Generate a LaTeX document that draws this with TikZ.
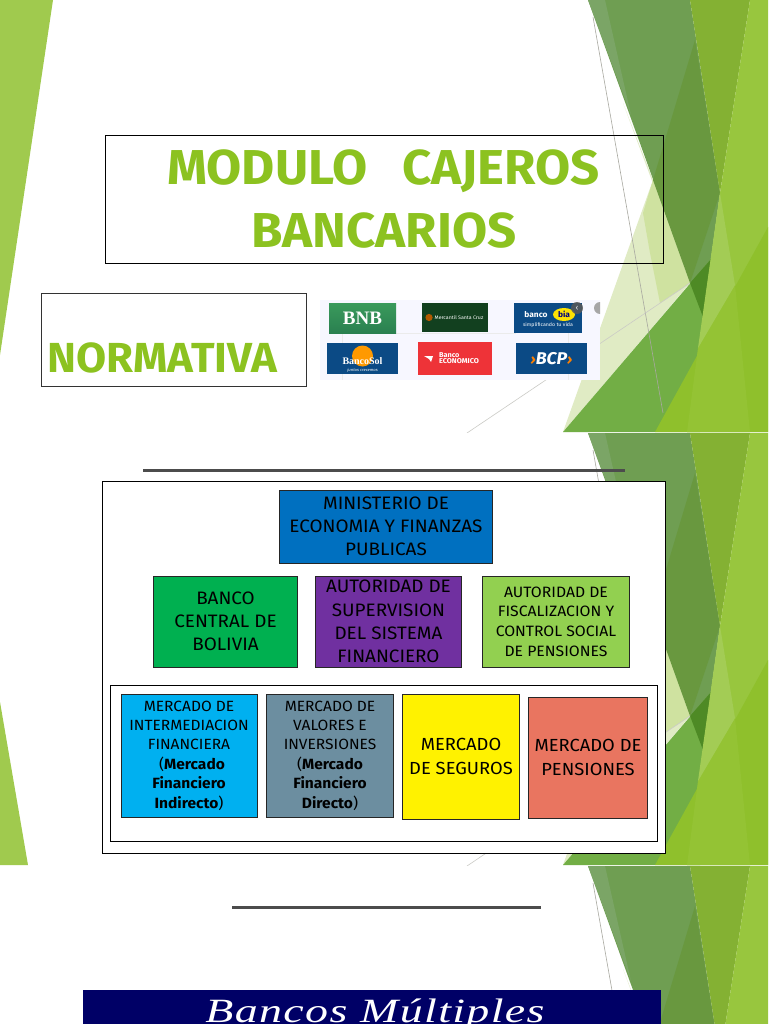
\documentclass[tikz,border=0pt]{standalone}
\usepackage{fontspec}
\setmainfont[FakeStretch=1.05]{Fira Sans}
\newfontfamily\titlef[FakeStretch=1.04]{Fira Sans}
\newfontfamily\serifx{Liberation Serif}
\newfontfamily\bannerfont[FakeStretch=1.35,LetterSpace=4]{Liberation Serif}
\usetikzlibrary{shapes.geometric}
\definecolor{titlegreen}{HTML}{8CC220}
\newcommand{\fs}[2]{\fontsize{#1}{#2}\selectfont}
\newcommand{\decoshapes}{%
  \fill[paleA] (623,103) -- (690,283) -- (653,180) -- cycle;
  \fill[paleA] (653,180) -- (690,283) -- (563,432) -- cycle;
  \fill[paleB] (653,180) -- (665,213) -- (690,283) -- (660,303) -- (650,253) -- (643,213) -- cycle;
  \fill[darkA] (588,0) -- (690,0) -- (720,193) -- (703,317) -- cycle;
  \fill[darkS] (588,0) -- (605,0) -- (631,115) -- cycle;
  \fill[darkB] (695,40) -- (720,193) -- (690,283) -- (653,180) -- cycle;
  \fill[midG] (712,258) -- (563,432) -- (700,432) -- (703,317) -- cycle;
  \fill[tipG] (712,258) -- (690,283) -- (703,317) -- cycle;
  \fill[colC] (690,0) -- (750,0) -- (720,193) -- cycle;
  \fill[colR] (750,0) -- (768,0) -- (768,432) -- (687,432) -- (720,193) -- cycle;
  \fill[colB] (768,227) -- (768,432) -- (655,432) -- cycle;
  \fill[colL] (735,285) -- (750,432) -- (687,432) -- (698,348) -- cycle;
  \fill[colS] (720,193) -- (735,285) -- (698,348) -- cycle;
  \draw[hair] (593,17) -- (663,413);
  \draw[hair2] (690,283) -- (467,433);
}
\tikzset{
  paleA/.style={fill=paleAc}, paleB/.style={fill=paleBc}, darkA/.style={fill=darkAc},
  darkS/.style={fill=darkSc}, darkB/.style={fill=darkBc}, midG/.style={fill=midGc},
  tipG/.style={fill=tipGc}, colC/.style={fill=colCc},
  colR/.style={fill=colRc}, colB/.style={fill=colBc}, colL/.style={fill=colLc},
  colS/.style={fill=colSc},
  hair/.style={draw=hairc,line width=.6pt}, hair2/.style={draw=hairc!60,line width=.6pt},
  framebox/.style={draw=black,line width=1pt,inner sep=0pt},
  orgbox/.style={draw=black!85,line width=1pt,inner sep=0pt,align=center,text=black},
  logo/.style={inner sep=0pt,text=white,align=center},
  rulerline/.style={draw=black!70,line width=2.6pt},
  titletext/.style={text=titlegreen,font=\titlef\fs{49}{60}\bfseries,inner sep=0pt,align=center}
}
\definecolor{paleAc}{HTML}{E0EBC4}\definecolor{paleBc}{HTML}{CFE2A0}
\definecolor{darkAc}{HTML}{6F9E52}\definecolor{darkSc}{HTML}{7BA566}
\definecolor{darkBc}{HTML}{69983F}\definecolor{midGc}{HTML}{72AE45}
\definecolor{tipGc}{HTML}{4E8A25}\definecolor{colCc}{HTML}{84B133}
\definecolor{colRc}{HTML}{98C63E}\definecolor{colBc}{HTML}{8FC02C}
\definecolor{colLc}{HTML}{94C334}\definecolor{colSc}{HTML}{A3CC55}
\definecolor{hairc}{HTML}{A8A8A0}
\definecolor{HTMLa}{HTML}{0070C0}\definecolor{HTMLb}{HTML}{00B050}
\definecolor{HTMLc}{HTML}{7030A0}\definecolor{HTMLd}{HTML}{92D050}
\definecolor{HTMLe}{HTML}{00B0F0}\definecolor{HTMLf}{HTML}{6C8EA0}
\definecolor{HTMLg}{HTML}{E97560}\definecolor{HTMLh}{HTML}{000066}
\definecolor{bnbA}{HTML}{3A9A5C}\definecolor{bnbB}{HTML}{2A8050}
\definecolor{logoNavy}{HTML}{0B4A85}\definecolor{logoRed}{HTML}{EE3338}
\definecolor{logoDark}{HTML}{12401F}
\begin{document}
\begin{tikzpicture}[x=1pt,y=-1pt]
\useasboundingbox (0,0) rectangle (768,1024);
\fill[white] (0,0) rectangle (768,1024);
% slides background
\begin{scope}\clip (0,0) rectangle (768,432); \decoshapes \end{scope}
\begin{scope}[yshift=-433pt]\clip (0,0) rectangle (768,432); \decoshapes \end{scope}
\begin{scope}[yshift=-866pt]\clip (0,0) rectangle (768,158); \decoshapes \end{scope}
\fill[colRc!92!white] (0,0) -- (53,0) -- (0,355) -- cycle;
\fill[colRc!92!white] (0,702) -- (28,865) -- (0,865) -- cycle;
% title
\node[framebox,minimum width=558pt,minimum height=128pt] (titlebox) at (384.5,199.5) {};
\node[titletext] (title1) at (383.5,171) {MODULO\hspace{23pt} CAJEROS};
\node[titletext] (title2) at (384,231) {BANCARIOS};
\node[framebox,draw=black!80,minimum width=265pt,minimum height=93pt] (normbox) at (173.5,339.5) {};
\node[titletext,anchor=west,font=\titlef\fs{42}{50}\bfseries] (normtext) at (47,358) {NORMATIVA};
% logos panel
\fill[blue!3!white] (320,300) rectangle (600,380);
\draw[black!8,line width=1pt] (342,333) -- (342,380) (396,333) -- (516,333) (568,333) -- (568,380);
\node[logo,minimum width=67pt,minimum height=30pt,top color=bnbA,bottom color=bnbB] (bnb) at (362.5,318) {\serifx\fs{19}{19}\bfseries BNB};
\node[logo,fill=logoDark,minimum width=66pt,minimum height=29pt,font=\fs{5}{5}] (mercantil) at (455,317.5) {\hspace{8pt}Mercantil Santa Cruz};
\fill[orange!70!black] (429,317.5) circle (3.6);
\node[logo,fill=logoNavy,minimum width=68pt,minimum height=30pt] (bia) at (548,318) {};
\node[ellipse,fill=yellow!85!orange,inner sep=0pt,minimum width=22pt,minimum height=13pt,font=\fs{8}{8}\bfseries,text=blue!50!black] (biatxt) at (564,314.5) {bia};
\node[logo,font=\fs{8}{8}\bfseries] (bancob) at (536,314.5) {banco};
\node[logo,font=\fs{5}{5}] (simpl) at (548,325.5) {simplificando tu vida};
\node[logo,fill=logoNavy,minimum width=71pt,minimum height=31pt] (sol) at (362.5,358.5) {};
\fill[orange!80!yellow] (362.5,356) circle (10.5);
\node[logo,font=\serifx\fs{10}{10}\bfseries] (soltxt) at (362.5,361) {BancoSol};
\node[logo,font=\fs{4}{4}\itshape] (soltag) at (362.5,370) {juntos crecemos};
\node[logo,fill=logoRed,minimum width=74pt,minimum height=33pt] (eco) at (455,358.5) {};
\node[logo,font=\fs{7}{6}\bfseries,align=left] (ecotxt) at (459,358) {Banco\\ECONOMICO};
\fill[white] (424,356) -- (433,356) -- (431,362) -- (429,359) -- cycle;
\node[logo,fill=logoNavy,minimum width=71pt,minimum height=31pt] (bcp) at (551.5,358.5) {};
\node[logo,font=\fs{17}{17}\bfseries\itshape] (bcptxt) at (551.5,358.5) {\textcolor{orange}{\fs{14}{14}›}BCP\textcolor{orange}{\fs{14}{14}›}};
\begin{scope}
\clip (320,300) rectangle (600,380);
\node[circle,fill=black!65,opacity=.85,minimum size=12pt,inner sep=0pt,text=white,font=\fs{8}{8}] (prev) at (577,308) {‹};
\node[circle,fill=black!35,minimum size=12pt,inner sep=0pt] (next) at (600,308) {};
\end{scope}
% rules
\coordinate (r1a) at (143,470.5); \coordinate (r1b) at (625,470.5);
\coordinate (r2a) at (232,907.5); \coordinate (r2b) at (541,907.5);
\draw[rulerline] (r1a) -- (r1b);
\draw[rulerline] (r2a) -- (r2b);
% diagram
\node[framebox,fill=white,minimum width=563pt,minimum height=372pt] (outer) at (383.5,667) {};
\node[framebox,minimum width=547pt,minimum height=156pt] (inner) at (383.5,763) {};
\node[orgbox,fill=HTMLa,minimum width=213.5pt,minimum height=73pt,font=\fs{18}{23}] (min) at (386,526.5) {MINISTERIO DE\\ECONOMIA Y FINANZAS\\PUBLICAS};
\node[orgbox,fill=HTMLb,minimum width=144.5pt,minimum height=91pt,font=\fs{18}{23}] (bcb) at (225.5,621.5) {BANCO\\CENTRAL DE\\BOLIVIA};
\node[orgbox,fill=HTMLc,minimum width=146.5pt,minimum height=91pt,font=\fs{18}{23.3}] (asfi) at (388.5,621.5) {AUTORIDAD DE\\SUPERVISION\\DEL SISTEMA\\FINANCIERO};
\node[orgbox,fill=HTMLd,minimum width=146.5pt,minimum height=91pt,font=\fs{15}{19.7}] (aps) at (556,621.5) {AUTORIDAD DE\\FISCALIZACION Y\\CONTROL SOCIAL\\DE PENSIONES};
\node[orgbox,fill=HTMLe,minimum width=136pt,minimum height=123pt,font=\fs{14.8}{19.4}] (mif) at (189,755.5) {MERCADO DE\\INTERMEDIACION\\FINANCIERA\\\hspace{6pt}(\textbf{Mercado}\\\textbf{Financiero}\\\textbf{Indirecto})};
\node[orgbox,fill=HTMLf,minimum width=127.5pt,minimum height=123pt,font=\fs{14.8}{19.4}] (mvi) at (330,755.5) {MERCADO DE\\VALORES E\\INVERSIONES\\(\textbf{Mercado}\\\textbf{Financiero}\\\textbf{Directo})};
\node[orgbox,fill=yellow,minimum width=117pt,minimum height=125pt,font=\fs{17.5}{24}] (seg) at (461,756.5) {MERCADO\\DE SEGUROS};
\node[orgbox,fill=HTMLg,minimum width=119pt,minimum height=121pt,font=\fs{17.5}{24}] (pen) at (588,757.5) {MERCADO DE\\PENSIONES};
% banner
\begin{scope}
\clip (0,0) rectangle (768,1024);
\fill[HTMLh] (83,990) rectangle (661,1024);
\node[inner sep=0pt,anchor=base,text=white,font=\bannerfont\fs{34}{34}\itshape] (banner) at (375,1022) {Bancos Múltiples};
\end{scope}
\end{tikzpicture}
\end{document}
